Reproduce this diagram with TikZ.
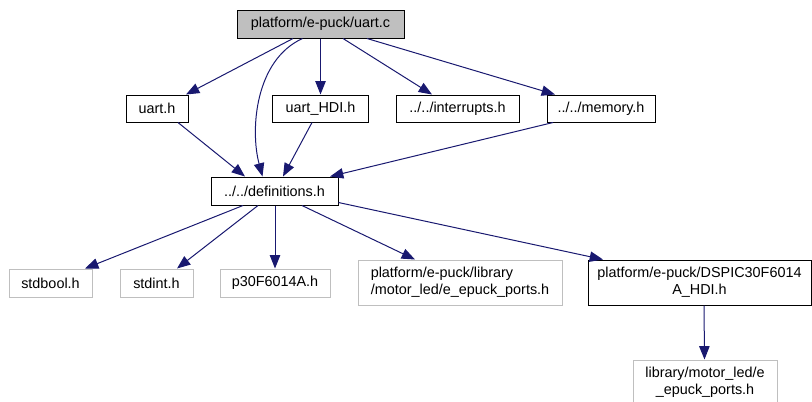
\documentclass[tikz,border=0pt]{standalone}
\usepackage{fontspec}
\setmainfont{Liberation Sans}
\usetikzlibrary{arrows.meta,calc}
\definecolor{edgeblue}{HTML}{191970}
\definecolor{boxgray}{HTML}{BFBFBF}
\begin{document}
\begin{tikzpicture}[x=0.75pt,y=-0.75pt,
  box/.style={draw=black,line width=0.75pt,inner sep=0pt,align=center,
    font=\fontsize{10.8}{12.75}\selectfont,minimum height=20.25pt},
  gbox/.style={box,draw=boxgray},
  edge/.style={draw=edgeblue,line width=0.75pt,-{Triangle[length=10pt,width=7.8pt]}}]
\useasboundingbox (0,0) rectangle (812,401);
\node[box,fill=boxgray,minimum width=125.25pt,minimum height=21pt] (uartc) at (320.5,24) {platform/e-puck/uart.c};
\node[box,minimum width=46.5pt] (uarth) at (157,108.5) {uart.h};
\node[box,minimum width=72pt] (uarthdi) at (320.5,108.5) {uart\_HDI.h};
\node[box,minimum width=92.25pt] (intr) at (457.5,108.5) {../../interrupts.h};
\node[box,minimum width=81pt] (mem) at (601,108.5) {../../memory.h};
\node[box,minimum width=95.25pt,minimum height=21pt] (defs) at (274.5,191) {../../definitions.h};
\node[gbox,minimum width=62.25pt,minimum height=21pt] (stdbool) at (50.5,283) {stdbool.h};
\node[gbox,minimum width=54.75pt,minimum height=21pt] (stdint) at (156.5,283) {stdint.h};
\node[gbox,minimum width=82.5pt,minimum height=21pt] (p30) at (275,283) {p30F6014A.h};
\node[gbox,align=left,minimum width=153pt,minimum height=33.75pt] (mports) at (460,282.5) {platform/e-puck/library\\/motor\_led/e\_epuck\_ports.h};
\node[box,minimum width=167.25pt,minimum height=33.75pt] (dspic) at (699.5,282.5) {platform/e-puck/DSPIC30F6014\\A\_HDI.h};
\node[gbox,minimum width=108pt,minimum height=33pt] (lib) at (705,382) {library/motor\_led/e\\\_epuck\_ports.h};

\draw[edge] ($(uartc.south)+(-27.5,0)$) -- ($(uarth.north)+(29,0)$);
\draw[edge] ($(uartc.south)+(-18,0)$) .. controls (255,60) and (250,130) .. ($(defs.north)+(-12,0)$);
\draw[edge] (uartc.south) -- (uarthdi.north);
\draw[edge] ($(uartc.south)+(22.5,0)$) -- ($(intr.north)+(-25.5,0)$);
\draw[edge] ($(uartc.south)+(46.5,0)$) -- ($(mem.north)+(-46,0)$);
\draw[edge] ($(uarth.south)+(21,0)$) -- ($(defs.north)+(-29.5,0)$);
\draw[edge] ($(uarthdi.south)+(-8.5,0)$) -- ($(defs.north)+(8.5,0)$);
\draw[edge] ($(mem.south)+(-48,0)$) -- ($(defs.north)+(55.5,0)$);
\draw[edge] ($(defs.south)+(-31.5,0)$) -- ($(stdbool.north)+(34.5,0)$);
\draw[edge] ($(defs.south)+(-16.5,0)$) -- ($(stdint.north)+(20.5,0)$);
\draw[edge] ($(defs.south)+(0.5,0)$) -- (p30.north);
\draw[edge] ($(defs.south)+(27.5,0)$) -- ($(mports.north)+(-45,0)$);
\draw[edge] ($(defs.south east)+(0,-3)$) -- ($(dspic.north)+(-96.5,0)$);
\draw[edge] ($(dspic.south)+(4.5,0)$) -- ($(lib.north)+(-0.5,0)$);
\end{tikzpicture}
\end{document}
